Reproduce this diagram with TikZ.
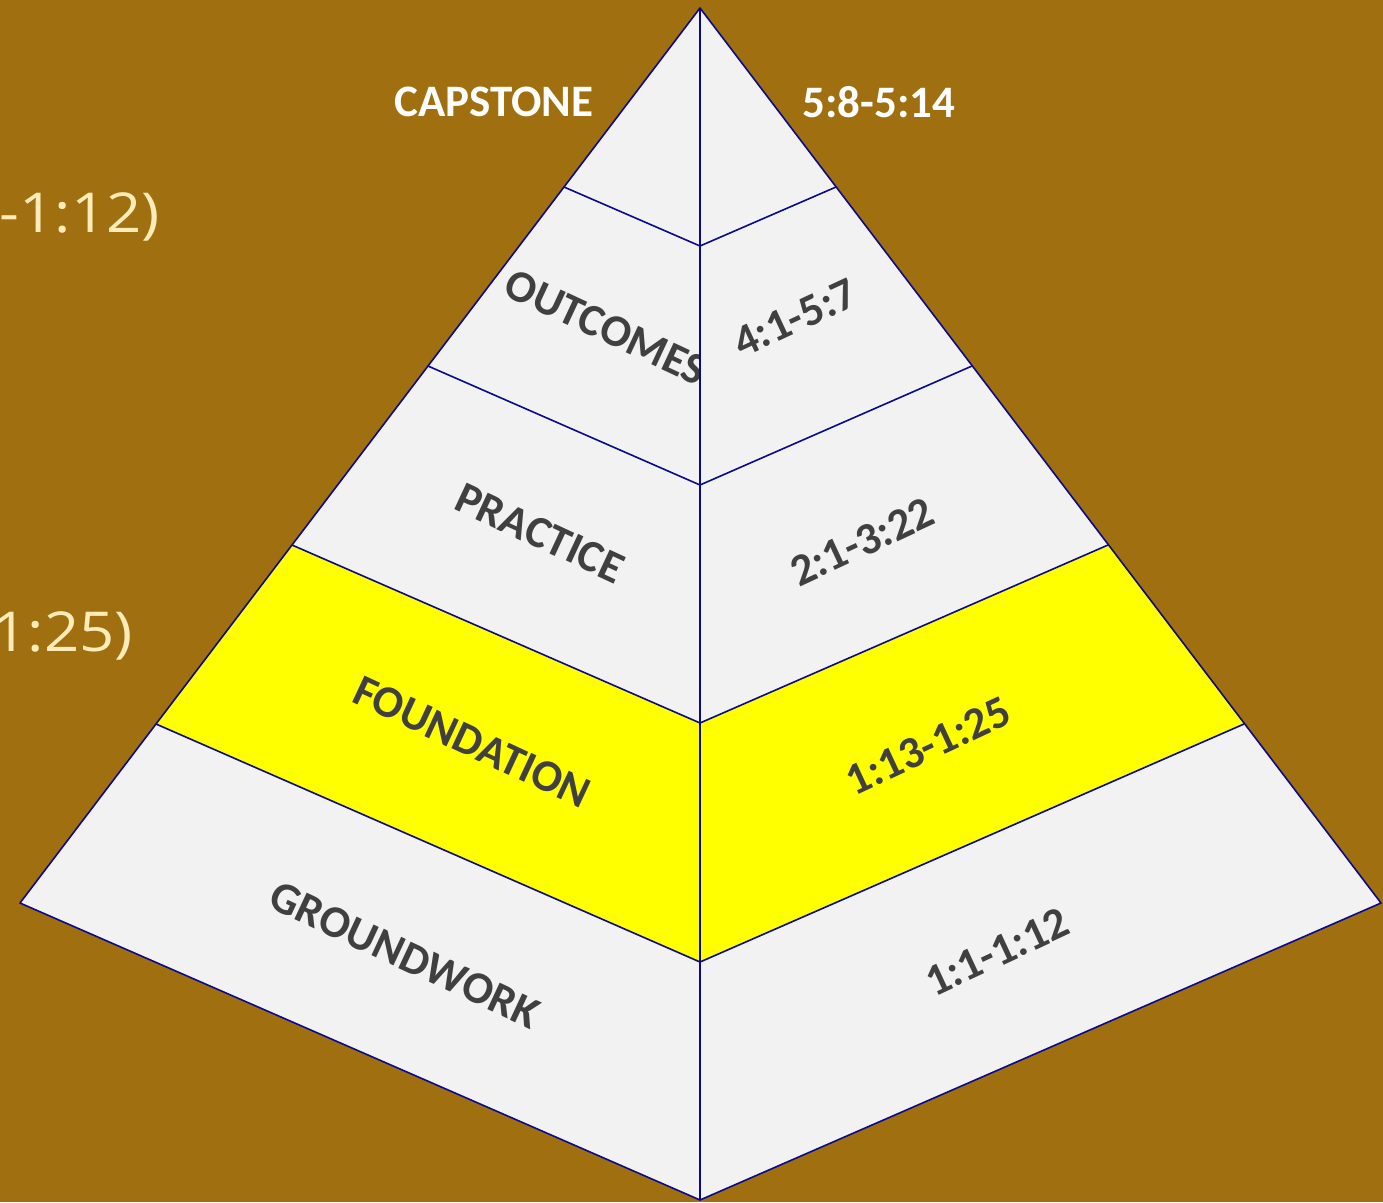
\documentclass[tikz,border=0pt]{standalone}
\usepackage{fontspec}
\setmainfont{Carlito}
\newfontfamily\sidefont{Open Sans}
\begin{document}
\begin{tikzpicture}[x=1pt,y=-1pt,
  edge/.style={draw=navyblue,line width=1.6pt,line join=round},
  face/.style={fill=facegray},
  hl/.style={fill=hlyellow},
  lbl/.style={text=labelgray,font=\bfseries\fontsize{45}{50}\selectfont,inner sep=0pt},
  toplbl/.style={text=white,font=\bfseries\fontsize{45}{50}\selectfont,inner sep=0pt},
  sidelbl/.style={text=creamtext,font=\sidefont\fontsize{55}{62}\selectfont,inner sep=0pt,anchor=east,xscale=1.12}]
\definecolor{bg}{RGB}{160,111,16}
\definecolor{navyblue}{RGB}{10,10,140}
\definecolor{facegray}{RGB}{242,242,242}
\definecolor{hlyellow}{RGB}{255,255,0}
\definecolor{labelgray}{RGB}{64,64,64}
\definecolor{creamtext}{RGB}{255,236,184}
\fill[bg] (0,0) rectangle (1383,1202);
\useasboundingbox (0,0) rectangle (1383,1202);
% corners
\coordinate (A) at (700,8);
\coordinate (L1) at (564,187);
\coordinate (L2) at (428,366);
\coordinate (L3) at (292,545);
\coordinate (L4) at (156,724);
\coordinate (L5) at (20,903);
\coordinate (C1) at (700,246);
\coordinate (C2) at (700,485);
\coordinate (C3) at (700,723);
\coordinate (C4) at (700,962);
\coordinate (C5) at (700,1200);
\coordinate (R1) at (836,187);
\coordinate (R2) at (972,366);
\coordinate (R3) at (1108,545);
\coordinate (R4) at (1244,724);
\coordinate (R5) at (1381,903);
% side texts
\node[sidelbl] (s1) at (160,217) {-1:12)};
\node[sidelbl] (s2) at (133,636) {1:25)};
% left face
\path[face] (A) -- (L1) -- (C1) -- cycle;
\path[face] (L1) -- (L2) -- (C2) -- (C1) -- cycle;
\path[face] (L2) -- (L3) -- (C3) -- (C2) -- cycle;
\path[hl] (L3) -- (L4) -- (C4) -- (C3) -- cycle;
\path[face] (L4) -- (L5) -- (C5) -- (C4) -- cycle;
\begin{scope}
\clip (A) -- (L5) -- (C5) -- cycle;
\node[lbl,rotate=-25] (t2) at (606,327) {OUTCOMES};
\node[lbl,rotate=-25] (t3) at (540,533) {PRACTICE};
\node[lbl,rotate=-25] (t4) at (472,742) {FOUNDATION};
\node[lbl,rotate=-25] (t5) at (405,955) {GROUNDWORK};
\end{scope}
% right face
\path[face] (A) -- (R1) -- (C1) -- cycle;
\path[face] (R1) -- (R2) -- (C2) -- (C1) -- cycle;
\path[face] (R2) -- (R3) -- (C3) -- (C2) -- cycle;
\path[hl] (R3) -- (R4) -- (C4) -- (C3) -- cycle;
\path[face] (R4) -- (R5) -- (C5) -- (C4) -- cycle;
\node[lbl,rotate=25] (u2) at (795,318) {4:1-5:7};
\node[lbl,rotate=25] (u3) at (862,542) {2:1-3:22};
\node[lbl,rotate=25] (u4) at (928,746) {1:13-1:25};
\node[lbl,rotate=25] (u5) at (997,952) {1:1-1:12};
% edges
\draw[edge] (A) -- (L5) -- (C5) -- (R5) -- cycle;
\draw[edge] (A) -- (C5);
\draw[edge] (L1) -- (C1) -- (R1);
\draw[edge] (L2) -- (C2) -- (R2);
\draw[edge] (L3) -- (C3) -- (R3);
\draw[edge] (L4) -- (C4) -- (R4);
% top labels
\node[toplbl] (cap) at (494,102) {CAPSTONE};
\node[toplbl] (capr) at (879,102) {5:8-5:14};
\end{tikzpicture}
\end{document}
